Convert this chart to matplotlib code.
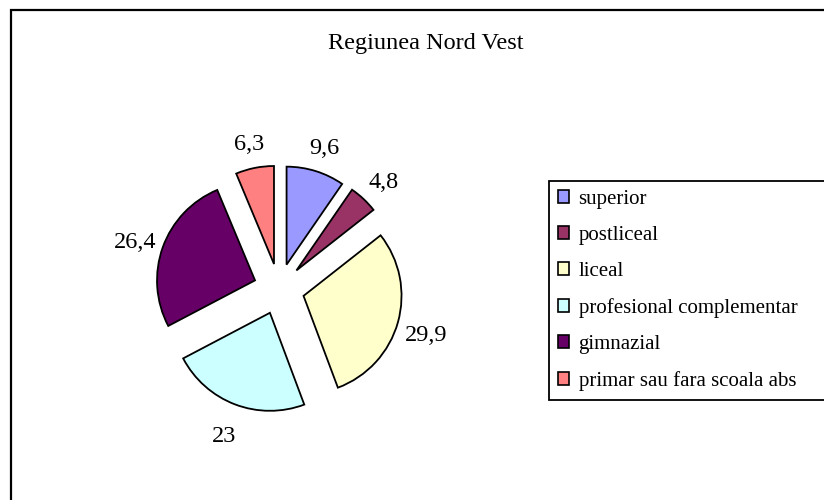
import matplotlib
matplotlib.use("Agg")
import matplotlib.pyplot as plt
from matplotlib.patches import Rectangle

title = "Regiunea Nord Vest"
categories = ["superior", "postliceal", "liceal", "profesional complementar",
              "gimnazial", "primar sau fara scoala abs"]
values = [9.6, 4.8, 29.9, 23, 26.4, 6.3]
value_labels = ["9,6", "4,8", "29,9", "23", "26,4", "6,3"]
colors = ["#9999FF", "#993366", "#FFFFCC", "#CCFFFF", "#660066", "#FF8080"]

W, H = 824, 500
fig = plt.figure(figsize=(W / 100, H / 100), dpi=100)
ax = fig.add_axes([0, 0, 1, 1])
serif = ["Liberation Serif", "DejaVu Serif"]

R = 98
wedges, texts = ax.pie(values, labels=value_labels, colors=colors,
                       startangle=90, counterclock=False,
                       explode=[0.26 * R] * len(values),
                       center=(279, H - 289), radius=R,
                       labeldistance=1.3,
                       wedgeprops=dict(edgecolor="black", linewidth=1.3),
                       textprops=dict(family=serif, fontsize=17.5, color="black"))
for t in texts:
    x, y = t.get_position()
    t.set_position((x, y - 5))
    t.set_ha("center")
    t.set_va("center")

ax.set_aspect("auto")
ax.set_xlim(0, W)
ax.set_ylim(0, H)
ax.axis("off")

# outer chart border (extends beyond the image on right and bottom)
ax.add_patch(Rectangle((11, -20), W + 40, H - 10 + 20, fill=False,
                       edgecolor="black", linewidth=1.6, clip_on=False))

ax.text(426, H - 43, title, family=serif, fontsize=17.5,
        ha="center", va="center")

leg = ax.legend(wedges, categories, loc="upper left",
                bbox_to_anchor=(549, H - 399, 320, 218),
                bbox_transform=ax.transData, mode="expand",
                borderaxespad=0, frameon=True, fancybox=False,
                handlelength=0.55, handleheight=0.55, handletextpad=0.45,
                labelspacing=0.82, borderpad=0.42,
                prop=dict(family=serif, size=15))
leg.get_frame().set_edgecolor("black")
leg.get_frame().set_linewidth(1.3)
leg.get_frame().set_facecolor("white")
leg.get_frame().set_alpha(1)
for h in leg.legend_handles:
    h.set_edgecolor("black")
    h.set_linewidth(1.2)

fig.savefig("out.png", dpi=100)
